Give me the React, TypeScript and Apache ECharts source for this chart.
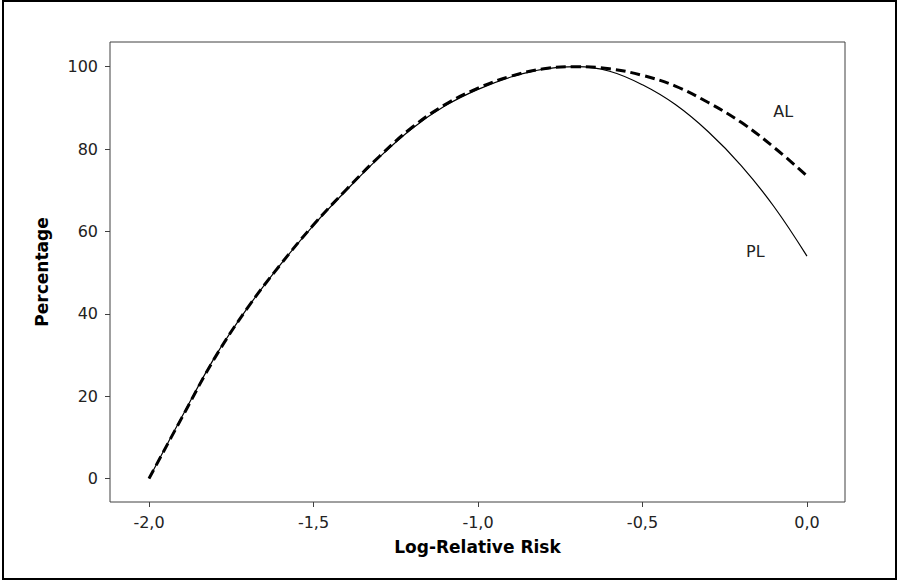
import React, { useEffect, useRef } from "react";
import * as echarts from "echarts";

// Log-relative risk grid (x values shared by both curves)
const logRR = [-2.0, -1.9, -1.8, -1.7, -1.6, -1.5, -1.4, -1.3, -1.2, -1.1, -1.0, -0.9, -0.8, -0.7, -0.6, -0.5, -0.4, -0.3, -0.2, -0.1, 0.0];
// Profile likelihood (solid)
const plValues = [0, 15, 29.5, 41.5, 52, 61.5, 70, 78, 85, 90.5, 94.5, 97.5, 99.4, 100, 98.9, 95.6, 90.8, 84.2, 76, 66, 54];
// Approximate likelihood (dashed)
const alValues = [0, 14.8, 29.3, 41.5, 52, 61.6, 70.2, 78.2, 85.3, 90.8, 94.8, 97.7, 99.5, 100, 99.5, 97.9, 95.3, 91.3, 86.5, 80.4, 73.5];

const xTicks = [-2.0, -1.5, -1.0, -0.5, 0.0];
const yTicks = [0, 20, 40, 60, 80, 100];

const curveLabels = [
  { name: "AL", coord: [-0.072, 89.1] },
  { name: "PL", coord: [-0.157, 55.1] },
];

const FONT = "DejaVu Sans";

export default function App() {
  const ref = useRef<HTMLDivElement>(null);

  useEffect(() => {
    if (!ref.current) return;
    const chart = echarts.init(ref.current, null, { renderer: "svg" });
    const pl = logRR.map((x, i) => [x, plValues[i]]);
    const al = logRR.map((x, i) => [x, alValues[i]]);

    const labelStyle = {
      show: true,
      position: "inside",
      formatter: "{b}",
      fontFamily: FONT,
      fontSize: 16,
      color: "#222",
    };

    chart.setOption({
      animation: false,
      backgroundColor: "#ffffff",
      grid: {
        left: 110,
        right: 54,
        top: 42,
        bottom: 79,
        show: true,
        borderColor: "#404040",
        borderWidth: 1,
        backgroundColor: "transparent",
      },
      xAxis: {
        type: "value",
        min: -2.1186,
        max: 0.1156,
        name: "Log-Relative Risk",
        nameLocation: "middle",
        nameGap: 36,
        nameTextStyle: { fontFamily: FONT, fontSize: 17, fontWeight: "bold", color: "#000" },
        axisLine: { show: false, onZero: false },
        splitLine: { show: false },
        axisTick: {
          show: true,
          inside: false,
          length: 5,
          customValues: xTicks,
          lineStyle: { color: "#404040", width: 1 },
        },
        axisLabel: {
          customValues: xTicks,
          margin: 12,
          fontFamily: FONT,
          fontSize: 16,
          color: "#222",
          formatter: (v: number) => v.toFixed(1).replace(".", ","),
        },
      },
      yAxis: {
        type: "value",
        min: -5.69,
        max: 106,
        name: "Percentage",
        nameLocation: "middle",
        nameGap: 60,
        nameTextStyle: { fontFamily: FONT, fontSize: 17, fontWeight: "bold", color: "#000" },
        axisLine: { show: false, onZero: false },
        splitLine: { show: false },
        axisTick: {
          show: true,
          inside: false,
          length: 5,
          customValues: yTicks,
          lineStyle: { color: "#404040", width: 1 },
        },
        axisLabel: {
          customValues: yTicks,
          margin: 12,
          fontFamily: FONT,
          fontSize: 16,
          color: "#222",
        },
      },
      graphic: [
        {
          type: "rect",
          shape: { x: 3, y: 1, width: 893, height: 578 },
          style: { fill: "none", stroke: "#000", lineWidth: 2 },
          silent: true,
        },
      ],
      series: [
        {
          name: "PL",
          type: "line",
          data: pl,
          smooth: 0.4,
          showSymbol: false,
          lineStyle: { color: "#000", width: 1.2, type: "solid" },
          markPoint: {
            symbol: "circle",
            symbolSize: 0,
            silent: true,
            label: labelStyle,
            data: [{ name: curveLabels[1].name, coord: curveLabels[1].coord }],
          },
        },
        {
          name: "AL",
          type: "line",
          data: al,
          smooth: 0.4,
          showSymbol: false,
          lineStyle: { color: "#000", width: 3, type: [10, 5] },
          markPoint: {
            symbol: "circle",
            symbolSize: 0,
            silent: true,
            label: labelStyle,
            data: [{ name: curveLabels[0].name, coord: curveLabels[0].coord }],
          },
        },
      ],
    });

    return () => chart.dispose();
  }, []);

  return (
    <div
      ref={ref}
      style={{ position: "fixed", left: 0, top: 0, width: 899, height: 581, background: "#fff" }}
    />
  );
}
